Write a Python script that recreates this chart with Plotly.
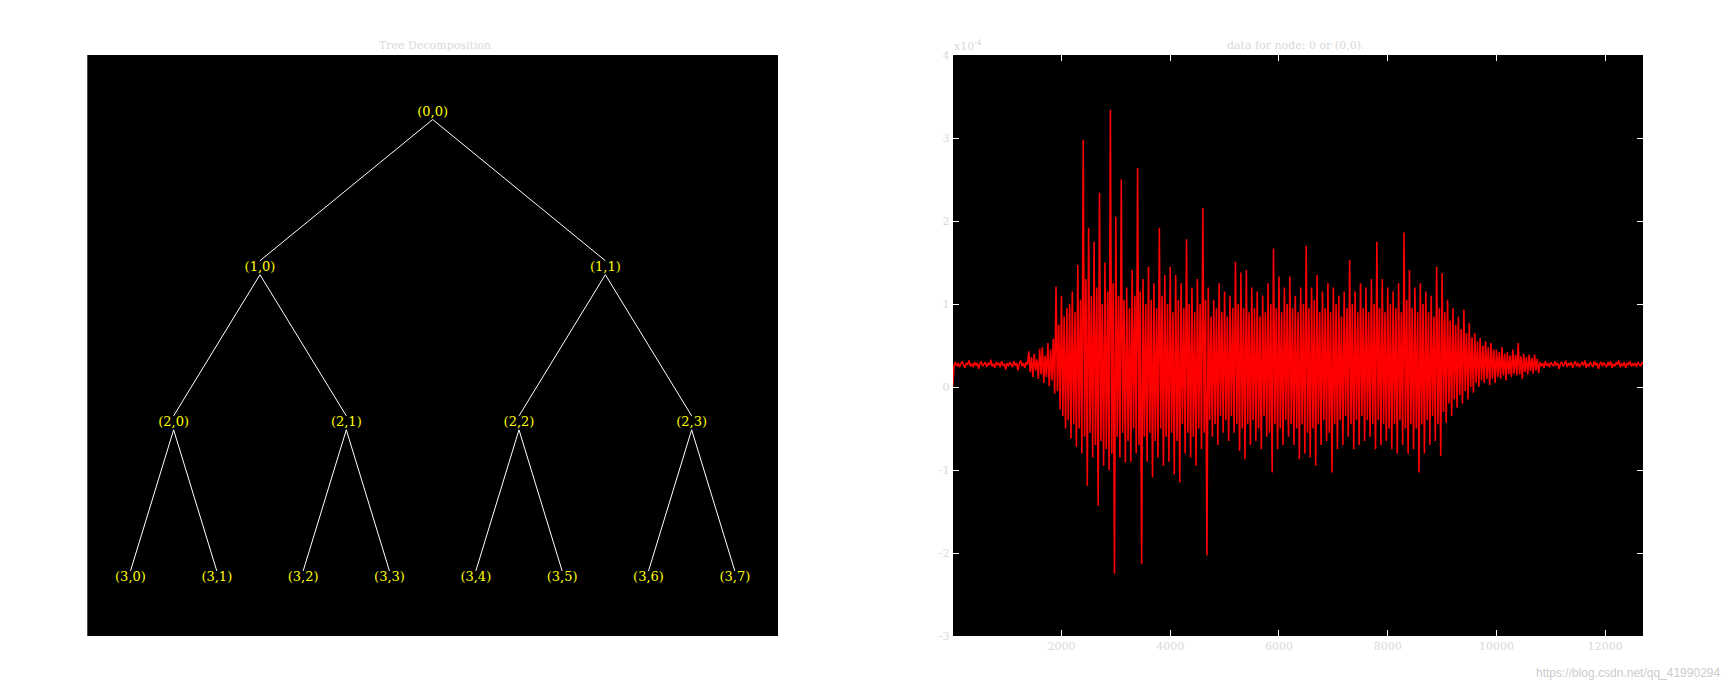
import plotly.graph_objects as go

PAGE_W, PAGE_H = 1731, 692
BODY = 8                      # default body margin of the html page
FW, FH = PAGE_W - 2 * BODY, PAGE_H - 2 * BODY

# ---------------- data ----------------
tree_depth = 3
node_labels = [f"({d},{k})" for d in range(tree_depth + 1) for k in range(2 ** d)]

signal_step = 25  # samples between listed values
quiet_start = [
    0.00, 0.26, 0.30, 0.25, 0.29, 0.24, 0.28, 0.31, 0.26, 0.23,
    0.29, 0.27, 0.32, 0.25, 0.28, 0.24, 0.30, 0.26, 0.29, 0.22,
    0.28, 0.31, 0.25, 0.27, 0.30, 0.24, 0.29, 0.26, 0.33, 0.25,
    0.28, 0.23, 0.30, 0.27, 0.29, 0.24, 0.31, 0.26, 0.28, 0.21,
    0.29, 0.25, 0.30, 0.27, 0.24, 0.31, 0.26, 0.29, 0.20, 0.28,
    0.32, 0.25, 0.29, 0.23, 0.30, 0.27,
]
ramp_up = [
    0.43, 0.18, 0.36, 0.12, 0.40, 0.20, 0.33, 0.10, 0.46, 0.15,
    0.48, 0.05, 0.38, 0.12, 0.53, 0.01, 0.45, 0.08, 0.58, -0.08,
]
burst = [
    1.21, -0.05, 0.75, -0.27,   1.10, -0.35, 0.85, -0.50,
    0.95, -0.40, 1.00, -0.62,   1.15, -0.45, 0.90, -0.72,
    1.47, -0.50, 1.05, -0.80,   2.98, -0.60, 1.30, -1.19,
    1.92, -0.55, 1.10, -0.85,   1.75, -0.70, 1.20, -1.43,
    2.34, -0.65, 1.00, -0.95,   1.50, -0.75, 1.15, -1.00,
    3.34, -0.80, 1.25, -2.25,   2.05, -0.60, 1.10, -0.85,
    2.50, -0.55, 1.05, -0.91,   1.20, -0.65, 0.95, -0.90,
    1.41, -0.50, 1.10, -0.80,   2.64, -0.70, 1.15, -2.13,
    1.30, -0.60, 1.00, -0.90,   1.45, -0.55, 1.05, -1.09,
    1.25, -0.65, 0.95, -0.85,   1.92, -0.50, 1.10, -0.95,
    1.35, -0.60, 1.00, -0.90,   1.45, -0.55, 0.90, -1.05,
    1.35, -0.65, 1.05, -1.15,   1.25, -0.45, 0.95, -0.80,
    1.78, -0.55, 1.00, -0.85,   1.20, -0.60, 0.90, -0.95,
    1.30, -0.50, 1.00, -0.75,   2.16, -0.55, 1.05, -2.03,
    1.20, -0.40, 0.85, -0.60,   1.05, -0.45, 0.95, -0.70,
    1.25, -0.35, 0.90, -0.55,   1.15, -0.40, 0.85, -0.65,
    1.10, -0.35, 0.95, -0.55,   1.51, -0.45, 1.00, -0.77,
    1.38, -0.50, 0.95, -0.87,   1.41, -0.45, 0.90, -0.70,
    1.20, -0.40, 0.95, -0.65,   1.15, -0.50, 0.85, -0.75,
    1.10, -0.35, 0.90, -0.60,   1.25, -0.55, 1.00, -1.03,
    1.67, -0.45, 0.95, -0.75,   1.33, -0.50, 0.90, -0.70,
    1.20, -0.40, 1.00, -0.60,   1.33, -0.45, 0.95, -0.70,
    1.10, -0.50, 0.90, -0.87,   1.20, -0.45, 1.00, -0.80,
    1.70, -0.55, 0.95, -0.85,   1.20, -0.50, 1.05, -0.95,
    1.35, -0.45, 0.90, -0.70,   1.15, -0.40, 0.95, -0.65,
    1.25, -0.55, 0.90, -1.03,   1.20, -0.45, 1.00, -0.75,
    1.10, -0.40, 0.85, -0.70,   1.15, -0.35, 0.95, -0.60,
    1.53, -0.45, 1.00, -0.75,   1.15, -0.40, 0.90, -0.70,
    1.25, -0.35, 0.95, -0.65,   1.20, -0.40, 0.90, -0.60,
    1.30, -0.45, 1.00, -0.75,   1.75, -0.40, 0.95, -0.70,
    1.30, -0.45, 0.90, -0.65,   1.20, -0.50, 1.00, -0.75,
    1.15, -0.45, 0.95, -0.80,   1.25, -0.40, 0.90, -0.70,
    1.86, -0.50, 1.05, -0.80,   1.41, -0.45, 0.95, -0.75,
    1.20, -0.50, 0.90, -1.03,   1.25, -0.45, 1.00, -0.80,
    1.15, -0.40, 0.90, -0.70,   1.10, -0.35, 0.85, -0.65,
    1.45, -0.45, 0.95, -0.83,   1.37, -0.30, 0.90, -0.43,
]
taper = [
    1.05, -0.20, 0.80, -0.35,   0.95, -0.15, 0.75, -0.25,
    0.85, -0.10, 0.70, -0.20,   0.93, -0.05, 0.65, -0.15,
    0.77, 0.00, 0.60, -0.07,    0.65, 0.05, 0.55, 0.00,
    0.59, 0.08, 0.50, 0.05,     0.55, 0.10, 0.48, 0.02,
    0.53, 0.10, 0.45, 0.05,     0.45, 0.12, 0.42, 0.10,
    0.48, 0.14, 0.40, 0.08,     0.42, 0.15, 0.38, 0.12,
    0.45, 0.16, 0.39, 0.14,     0.53, 0.15, 0.37, 0.10,
    0.40, 0.18, 0.36, 0.15,     0.39, 0.19, 0.35, 0.16,
    0.39, 0.20, 0.34, 0.17,
]
quiet_end = [
    0.30, 0.25, 0.29, 0.23, 0.31, 0.26, 0.28, 0.24, 0.30, 0.27,
    0.25, 0.31, 0.26, 0.29, 0.22, 0.28, 0.30, 0.25, 0.27, 0.32,
    0.24, 0.29, 0.26, 0.30, 0.23, 0.28, 0.31, 0.25, 0.29, 0.24,
    0.27, 0.30, 0.26, 0.32, 0.23, 0.28, 0.25, 0.30, 0.27, 0.24,
    0.31, 0.26, 0.29, 0.22, 0.28, 0.30, 0.25, 0.29, 0.27, 0.24,
    0.30, 0.26, 0.31, 0.23, 0.28, 0.25, 0.29, 0.27, 0.32, 0.24,
    0.28, 0.26, 0.30, 0.23, 0.29, 0.27, 0.31, 0.25, 0.28, 0.26,
    0.29, 0.24, 0.30, 0.27, 0.25, 0.29, 0.28,
]
signal_vals = quiet_start + ramp_up + burst + taper + quiet_end
signal_x = [1 + signal_step * i for i in range(len(signal_vals))]

x_ticks = [2000, 4000, 6000, 8000, 10000, 12000]
y_ticks = [-3, -2, -1, 0, 1, 2, 3, 4]

left_title = "Tree Decomposition"
right_title = "data for node: 0 or (0,0)."
watermark = "https://blog.csdn.net/qq_41990294"

# ---------------- page-pixel helpers ----------------
def fx(p):
    return (p - BODY) / FW

def fy(p):
    return 1 - (p - BODY) / FH

TXT = "#d9d9d9"
SERIF = "DejaVu Serif, Liberation Serif, serif"

fig = go.Figure()

# ---------------- tree ----------------
def node_pos(d, k):
    return (2 * k + 1) / 2 ** (d + 1), -d

off = 0.045
ex, ey = [], []
for d in range(tree_depth):
    for k in range(2 ** d):
        px, py = node_pos(d, k)
        for c in (2 * k, 2 * k + 1):
            cx, cy = node_pos(d + 1, c)
            ex += [px, cx, None]
            ey += [py - off, cy + off, None]
fig.add_trace(go.Scatter(x=ex, y=ey, mode="lines", line=dict(color="white", width=1),
                         hoverinfo="skip", showlegend=False, xaxis="x", yaxis="y"))
nx, ny = [], []
for d in range(tree_depth + 1):
    for k in range(2 ** d):
        a, b = node_pos(d, k)
        nx.append(a)
        ny.append(b)
fig.add_trace(go.Scatter(x=nx, y=ny, mode="text", text=node_labels,
                         textfont=dict(color="#ffff00", size=13, family=SERIF),
                         showlegend=False, xaxis="x", yaxis="y"))

# ---------------- signal ----------------
fig.add_trace(go.Scatter(x=signal_x, y=signal_vals, mode="lines",
                         line=dict(color="#ff0000", width=1.6),
                         showlegend=False, xaxis="x2", yaxis="y2"))

dom_y = [fy(636), fy(55)]
axis_common = dict(ticks="inside", ticklen=6, tickcolor="white", tickwidth=1,
                   showline=True, linecolor="white", mirror="ticks",
                   showgrid=False, zeroline=False, automargin=False,
                   tickfont=dict(color=TXT, size=11, family=SERIF))
fig.update_layout(
    width=FW, height=FH,
    margin=dict(l=0, r=0, t=0, b=0, autoexpand=False),
    paper_bgcolor="white", plot_bgcolor="black",
    xaxis=dict(domain=[fx(87.3), fx(778)], range=[0, 1], visible=False,
               fixedrange=True, automargin=False),
    yaxis=dict(domain=dom_y, range=[-3.374, 0.371], visible=False,
               fixedrange=True, automargin=False),
    xaxis2=dict(domain=[fx(952.7), fx(1643.3)], anchor="y2", range=[1, 12701],
                tickvals=x_ticks, ticktext=[str(v) for v in x_ticks], **axis_common),
    yaxis2=dict(domain=dom_y, anchor="x2", range=[-3, 4],
                tickvals=y_ticks, ticktext=[str(v) for v in y_ticks], **axis_common),
    annotations=[
        dict(text=left_title, x=fx(435), y=fy(46), xref="paper", yref="paper",
             xanchor="center", yanchor="middle", showarrow=False,
             font=dict(color=TXT, size=11, family=SERIF)),
        dict(text=right_title, x=fx(1295), y=fy(46), xref="paper", yref="paper",
             xanchor="center", yanchor="middle", showarrow=False,
             font=dict(color=TXT, size=11, family=SERIF)),
        dict(text="x10<sup>-4</sup>", x=fx(952), y=fy(46), xref="paper", yref="paper",
             xanchor="left", yanchor="middle", showarrow=False,
             font=dict(color=TXT, size=11, family=SERIF)),
        dict(text=watermark, x=fx(1722), y=fy(673), xref="paper", yref="paper",
             xanchor="right", yanchor="middle", showarrow=False,
             font=dict(color="#cccccc", size=12,
                       family="Liberation Sans Narrow, Liberation Sans, sans-serif")),
    ],
)

fig.write_html("out.html")
